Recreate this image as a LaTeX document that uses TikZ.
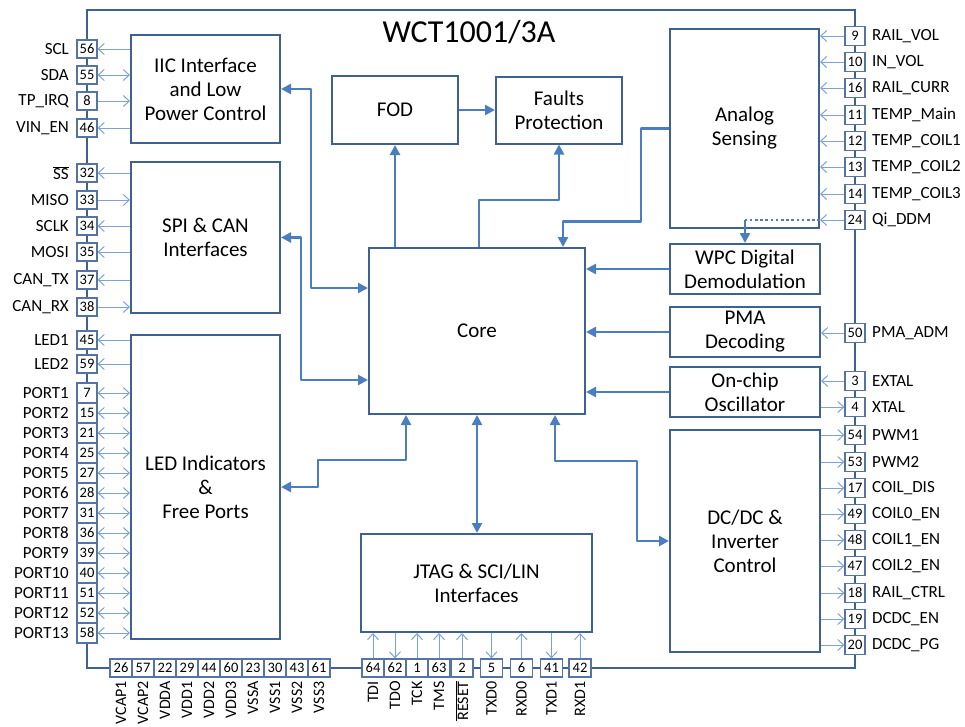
\documentclass[tikz,border=0pt]{standalone}
\usepackage{fontspec}
\setmainfont{Carlito}
\usetikzlibrary{arrows.meta}

\definecolor{chipblue}{RGB}{62,96,146}
\definecolor{busblue}{RGB}{74,126,193}
\definecolor{wireblue}{RGB}{125,163,214}
\definecolor{padblue}{RGB}{84,116,164}

\tikzset{
    chip/.style={draw=chipblue, line width=2.5pt, inner sep=0pt},
    block/.style={draw=chipblue, line width=2pt, fill=white, align=center, inner sep=0pt,
                  font=\fontsize{21}{24}\selectfont},
    pad/.style={draw=padblue, line width=1.1pt, fill=white, inner sep=0pt,
                minimum width=20pt, minimum height=18pt, font=\fontsize{14.5}{15}\selectfont},
    pinname/.style={inner sep=0pt, font=\fontsize{17}{18}\selectfont},
    bus/.style={draw=busblue, line width=2.6pt, line join=round, >={Triangle[length=10pt,width=10pt]}},
    pinwire/.style={draw=wireblue, line width=1pt, >={Straight Barb[length=6pt,width=11pt]}},
    topin/.style={<-}, toblk/.style={->}, bidir/.style={<->}
}

\begin{document}
\begin{tikzpicture}[x=1pt, y=-1pt]
    \useasboundingbox (0,0) rectangle (965,726);

    \node[chip, minimum width=768pt, minimum height=658pt] (chip) at (471,339) {};
    \node[font=\fontsize{32}{36}\selectfont] (title) at (469,32) {WCT1001/3A};

    % blocks
    \node[block, minimum width=149pt, minimum height=108pt] (iic)    at (205.5,89)    {IIC Interface\\and Low\\Power Control};
    \node[block, minimum width=149pt, minimum height=151pt] (spi)    at (205.5,237.5) {SPI \& CAN\\Interfaces};
    \node[block, minimum width=149pt, minimum height=304pt] (led)    at (205.5,487)   {LED Indicators\\\&\\Free Ports};
    \node[block, minimum width=126pt, minimum height=68pt]  (fod)    at (395,110)     {FOD};
    \node[block, minimum width=126pt, minimum height=67pt]  (fault)  at (559,110)     {Faults\\Protection};
    \node[block, minimum width=216pt, minimum height=166pt] (core)   at (477,331)     {Core};
    \node[block, minimum width=231pt, minimum height=98pt]  (jtag)   at (476.5,583)   {JTAG \& SCI/LIN\\Interfaces};
    \node[block, minimum width=149pt, minimum height=199pt] (analog) at (744.5,128.5) {Analog\\Sensing};
    \node[block, minimum width=150pt, minimum height=50pt]  (wpc)    at (745,269)     {WPC Digital\\Demodulation};
    \node[block, minimum width=150pt, minimum height=50pt]  (pma)    at (745,332)     {PMA\\Decoding};
    \node[block, minimum width=150pt, minimum height=50pt]  (osc)    at (745,392)     {On-chip\\Oscillator};
    \node[block, minimum width=150pt, minimum height=222pt] (dcdc)   at (745,541)     {DC/DC \&\\Inverter\\Control};

    % left pins
    \foreach \num/\y/\name/\dir/\blk in {56/49/SCL/topin/iic, 55/75/SDA/bidir/iic, 8/101/TP\_IRQ/toblk/iic, 46/128/VIN\_EN/topin/iic,
            32/173/{$\overline{\mbox{SS}}$}/topin/spi, 33/200/MISO/toblk/spi, 34/226/SCLK/topin/spi, 35/252/MOSI/topin/spi,
            37/280/CAN\_TX/topin/spi, 38/307/CAN\_RX/toblk/spi, 45/340/LED1/topin/led, 59/364/LED2/topin/led}
    {
        \node[pad] (p\num) at (87,\y) {\num};
        \node[pinname, anchor=east] (n\num) at (69,\y) {\name};
        \draw[pinwire, \dir] (p\num.east) -- (p\num.east -| \blk.west);
    }
    \foreach \num [count=\i] in {7, 15, 21, 25, 27, 28, 31, 36, 39, 40, 51, 52, 58}
    {
        \node[pad, minimum height=20pt] (p\num) at (87,373+20*\i) {\num};
        \node[pinname, anchor=east] (n\num) at (69,373+20*\i) {PORT\i};
        \draw[pinwire, bidir] (p\num.east) -- (p\num.east -| led.west);
    }

    % right pins
    \foreach \num/\y/\name/\dir/\blk in {9/36/RAIL\_VOL/toblk/analog, 10/62/IN\_VOL/toblk/analog, 16/88/RAIL\_CURR/toblk/analog,
            11/115/TEMP\_Main/toblk/analog, 12/141/TEMP\_COIL1/toblk/analog, 13/167/TEMP\_COIL2/toblk/analog,
            14/194/TEMP\_COIL3/toblk/analog, 24/220/Qi\_DDM/toblk/analog, 50/333/PMA\_ADM/toblk/pma,
            3/381/EXTAL/toblk/osc, 4/407/XTAL/topin/osc, 54/435/PWM1/topin/dcdc, 53/462/PWM2/topin/dcdc,
            17/488/COIL\_DIS/topin/dcdc, 49/514/COIL0\_EN/topin/dcdc, 48/540/COIL1\_EN/topin/dcdc,
            47/566/COIL2\_EN/topin/dcdc, 18/593/RAIL\_CTRL/topin/dcdc, 19/619/DCDC\_EN/topin/dcdc, 20/645/DCDC\_PG/topin/dcdc}
    {
        \node[pad, minimum height=19pt] (p\num) at (855,\y) {\num};
        \node[pinname, anchor=west] (n\num) at (872,\y) {\name};
        \draw[pinwire, \dir] (p\num.west) -- (p\num.west -| \blk.east);
    }

    % bottom pins
    \foreach \num/\x/\name in {26/121/VCAP1, 57/143/VCAP2, 22/165/VDDA, 29/187/VDD1, 44/209/VDD2,
            60/231/VDD3, 23/253/VSSA, 30/275/VSS1, 43/297/VSS2, 61/319/VSS3}
    {
        \node[pad, minimum width=22pt] (p\num) at (\x,668) {\num};
        \node[pinname, rotate=90, anchor=east, font=\fontsize{16}{17}\selectfont] (n\num) at (\x,681) {\name};
    }
    \foreach \num/\x/\name/\dir in {64/373/TDI/toblk, 62/395/TDO/topin, 1/417/TCK/toblk, 63/439/TMS/toblk,
            2/462/{$\overline{\mbox{RESET}}$}/toblk, 5/491.5/TXD0/topin, 6/521.5/RXD0/toblk,
            41/551.5/TXD1/topin, 42/580/RXD1/toblk}
    {
        \node[pad, minimum width=22pt] (p\num) at (\x,668) {\num};
        \node[pinname, rotate=90, anchor=east, font=\fontsize{16}{17}\selectfont] (n\num) at (\x,681) {\name};
        \draw[pinwire, \dir] (p\num.north) -- (p\num.north |- jtag.south);
    }

    % internal buses
    \draw[bus, <->] (iic.east) -- ++(30,0) |- ([yshift=43pt]core.west);           % iic -- core
    \draw[bus, <->] (spi.east) -- ++(20,0) |- ([yshift=-49pt]core.west);          % spi -- core
    \draw[bus, ->] (core.north -| fod.south) -- (fod.south);                      % core -- fod
    \draw[bus, ->] ([xshift=2pt]core.north) -- ++(0,-47) -| (fault.south);         % core -- faults
    \draw[bus, ->] (fod.east) -- (fault.west |- fod.east);                        % fod -- faults
    \draw[bus, ->] (analog.west) -- ++(-28,0) -- ++(0,93) -| ([xshift=86pt]core.north); % analog -- core
    \foreach \blk in {wpc, pma, osc}
        \draw[bus, ->] (\blk.west) -- (core.east |- \blk.west);
    \draw[bus, <->] (led.east) -- ++(37,0) -- ++(0,-27) -| ([xshift=-71pt]core.south); % led -- core
    \draw[bus, <->] (core.south) -- (jtag.north -| core.south);                   % core -- jtag
    \draw[bus, <->] ([xshift=78pt]core.south) -- ++(0,46) -- ++(82,0) |- (dcdc.west); % core -- dcdc
    \draw[bus, dash pattern=on 2.6pt off 2.6pt] (analog.east |- p24) -- (wpc.north |- p24); % Qi_DDM
    \draw[bus, ->] (wpc.north |- p24) -- (wpc.north);
\end{tikzpicture}
\end{document}
